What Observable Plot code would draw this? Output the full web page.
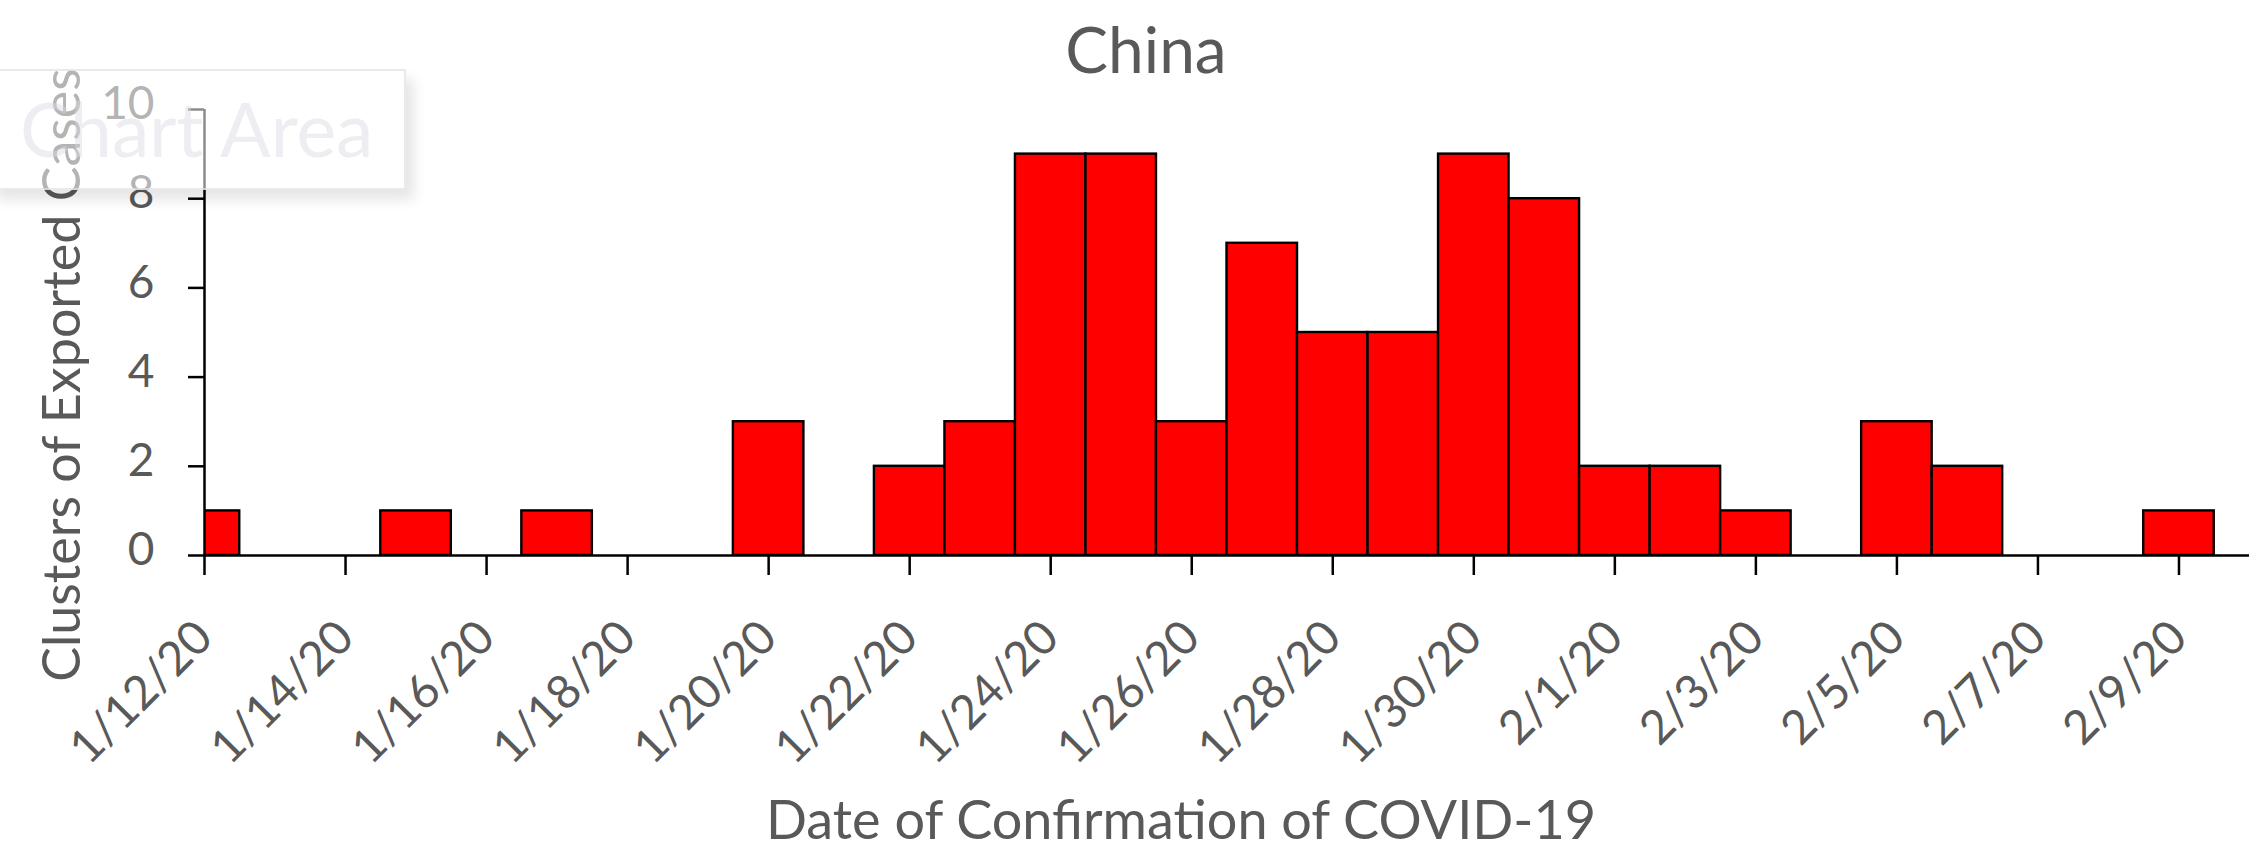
<!DOCTYPE html>
<html><head><meta charset="utf-8">
<script src="https://cdn.jsdelivr.net/npm/d3@7"></script>
<script src="https://cdn.jsdelivr.net/npm/@observablehq/plot@0.6"></script>
<style>
html,body{margin:0;padding:0;background:#fff;}
#wrap{position:relative;width:2256px;height:850px;overflow:hidden;}
#ylab{position:absolute;left:60px;top:375px;transform:translate(-50%,-50%) rotate(-90deg);white-space:nowrap;
 font-family:Lato,sans-serif;font-size:52px;color:#595959;line-height:1;}
#tip{position:absolute;left:-12px;top:69px;width:418px;height:121px;background:rgba(255,255,255,0.55);
 box-shadow:8px 10px 12px rgba(0,0,0,0.10);border:2px solid rgba(225,225,225,0.7);box-sizing:border-box;
 font-family:Lato,sans-serif;font-size:75px;line-height:115px;padding-left:30px;color:rgba(215,215,226,0.45);white-space:nowrap;}
</style></head>
<body><div id="wrap"><div id="chart"></div><div id="ylab"></div><div id="tip">Chart Area</div></div>
<script>
const dates = ["2020-01-12","2020-01-13","2020-01-14","2020-01-15","2020-01-16","2020-01-17","2020-01-18","2020-01-19","2020-01-20","2020-01-21","2020-01-22","2020-01-23","2020-01-24","2020-01-25","2020-01-26","2020-01-27","2020-01-28","2020-01-29","2020-01-30","2020-01-31","2020-02-01","2020-02-02","2020-02-03","2020-02-04","2020-02-05","2020-02-06","2020-02-07","2020-02-08","2020-02-09"];
const counts = [1,0,0,1,0,1,0,0,3,0,2,3,9,9,3,7,5,5,9,8,2,2,1,0,3,2,0,0,1];
const tickDates = ["2020-01-12","2020-01-14","2020-01-16","2020-01-18","2020-01-20","2020-01-22","2020-01-24","2020-01-26","2020-01-28","2020-01-30","2020-02-01","2020-02-03","2020-02-05","2020-02-07","2020-02-09"];
const tickLabels = ["1/12/20","1/14/20","1/16/20","1/18/20","1/20/20","1/22/20","1/24/20","1/26/20","1/28/20","1/30/20","2/1/20","2/3/20","2/5/20","2/7/20","2/9/20"];
const yTicks = [0,2,4,6,8,10];
const xStart = "2020-01-12", xEnd = "2020-02-10";
const title = "China";
const xLabel = "Date of Confirmation of COVID-19";
const yLabel = "Clusters of Exported Cases";

const half = 12 * 3600 * 1000;
const rows = dates.map((d, i) => ({x1: new Date(+new Date(d) - half), x2: new Date(+new Date(d) + half), count: counts[i]}));
const labelMap = new Map(tickDates.map((d, i) => [+new Date(d), tickLabels[i]]));
const font = "Lato, sans-serif";
const grey = "#595959";

const chart = Plot.plot({
  width: 2256, height: 850,
  marginTop: 109, marginBottom: 295, marginLeft: 204, marginRight: 7,
  style: {fontFamily: font, background: "white", overflow: "visible"},
  x: {type: "utc", domain: [new Date(xStart), new Date(xEnd)]},
  y: {domain: [0, 10]},
  marks: [
    Plot.rectY(rows, {x1: "x1", x2: "x2", y1: 0, y2: "count", fill: "#ff0000", stroke: "black", strokeWidth: 2.4, clip: true}),
    Plot.ruleY([0], {stroke: "black", strokeWidth: 2.5}),
    Plot.ruleX([new Date(xStart)], {y1: 0, y2: 10, stroke: "black", strokeWidth: 2.5}),
    Plot.axisY({ticks: yTicks, tickSize: 16, tickFormat: () => "", stroke: "black", strokeWidth: 2.5, label: null}),
    Plot.axisY({ticks: yTicks, tickSize: 0, tickPadding: 50, dy: -5, fontSize: 46, fill: grey, label: null}),
    Plot.axisX({ticks: tickDates.map(d => new Date(d)), tickFormat: d => labelMap.get(+d), tickRotate: -45, tickSize: 20, tickPadding: 54, fontSize: 47, stroke: "black", strokeWidth: 2.5, fill: grey, label: null}),
    Plot.text([title], {frameAnchor: "top", dx: -81, dy: -82, fontSize: 64, fill: grey}),
    Plot.text([xLabel], {frameAnchor: "bottom", dx: -46, dy: 283, fontSize: 54, fill: grey})
  ]
});
document.getElementById("chart").append(chart);
document.getElementById("ylab").textContent = yLabel;
</script></body></html>
